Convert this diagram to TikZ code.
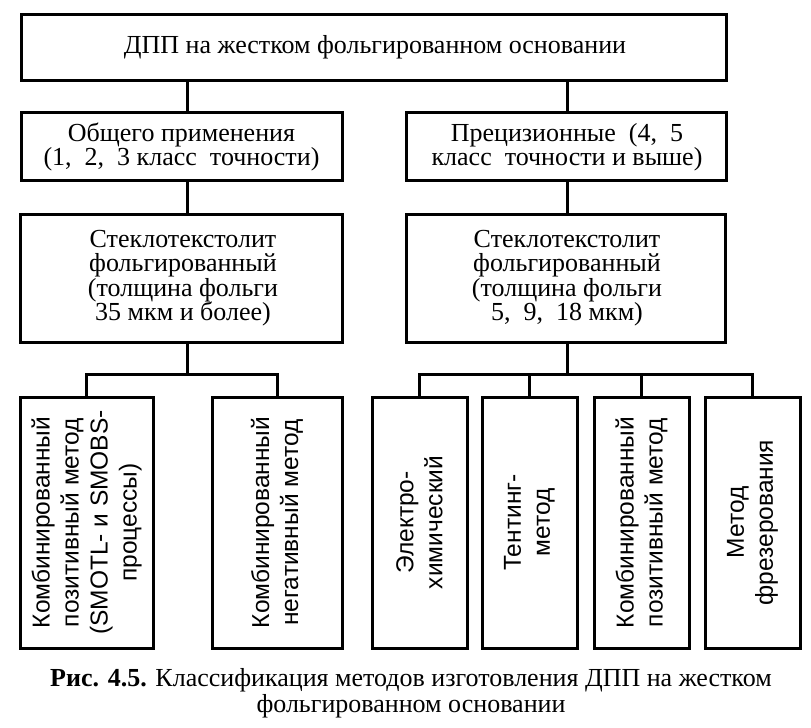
\documentclass[tikz,border=0pt]{standalone}
\usepackage{fontspec}
\setmainfont{Liberation Serif}
\setsansfont{Liberation Sans}
\begin{document}
\begin{tikzpicture}[x=1pt,y=-1pt,
  box/.style={draw,line width=3pt,inner sep=0pt,align=center},
  stxt/.style={font=\fontsize{26}{24.5}\selectfont,align=center},
  btxt/.style={font=\sffamily\fontsize{24.5}{29}\selectfont,align=center,rotate=90,inner sep=0pt},
  conn/.style={line width=3pt}]
\useasboundingbox (0,0) rectangle (811,728);
% top
\node[box,minimum width=705,minimum height=66] (top) at (373.5,47) {};
\node[stxt] (topt) at (375,47) {ДПП на жестком фольгированном основании};
% row 2
\node[box,minimum width=321,minimum height=68] (l2) at (181.5,146) {};
\node[stxt] (l2t) at (181.5,147) {Общего применения\\(1,~ 2,~ 3 класс~ точности)};
\node[box,minimum width=320,minimum height=68] (r2) at (566,146) {};
\node[stxt] (r2t) at (567,147) {Прецизионные~ (4,~ 5\\класс~ точности и выше)};
% row 3
\node[box,minimum width=322,minimum height=128] (l3) at (181,278) {};
\node[stxt] (l3t) at (183,278) {Стеклотекстолит\\фольгированный\\(толщина фольги\\35 мкм и более)};
\node[box,minimum width=319,minimum height=128] (r3) at (565.5,278) {};
\node[stxt] (r3t) at (567,278) {Стеклотекстолит\\фольгированный\\(толщина фольги\\5,~ 9,~ 18 мкм)};
% bottom boxes
\node[box,minimum width=133,minimum height=251] (b1) at (86.5,522.5) {};
\node[box,minimum width=130,minimum height=251] (b2) at (277,522.5) {};
\node[box,minimum width=95,minimum height=251] (b3) at (419.5,522.5) {};
\node[box,minimum width=95,minimum height=251] (b4) at (529.5,522.5) {};
\node[box,minimum width=95,minimum height=251] (b5) at (641.5,522.5) {};
\node[box,minimum width=95,minimum height=251] (b6) at (752.5,522.5) {};
\node[btxt] (b1t) at (b1) {Комбинированный\\позитивный метод\\(SMOTL- и SMOBS-\\процессы)};
\node[btxt] (b2t) at (b2) {Комбинированный\\негативный метод};
\node[btxt] (b3t) at (b3) {Электро-\\химический};
\node[btxt] (b4t) at (b4) {Тентинг-\\метод};
\node[btxt] (b5t) at (b5) {Комбинированный\\позитивный метод};
\node[btxt] (b6t) at (b6) {Метод\\фрезерования};
% connector columns
\coordinate (lx) at (187,0);
\coordinate (rx) at (567,0);
\coordinate (lj) at (187,374);
\coordinate (rj) at (567,374);
\draw[conn] (top.south -| lx) -- (l2.north -| lx);
\draw[conn] (top.south -| rx) -- (r2.north -| rx);
\draw[conn] (l2.south -| lx) -- (l3.north -| lx);
\draw[conn] (r2.south -| rx) -- (r3.north -| rx);
\draw[conn] (l3.south -| lx) -- (lj);
\draw[conn] (r3.south -| rx) -- (rj);
\draw[conn,line join=miter] (b1.north) -- (b1.north |- lj) -- (b2.north |- lj) -- (b2.north);
\draw[conn,line join=miter] (b3.north) -- (b3.north |- rj) -- (b6.north |- rj) -- (b6.north);
\draw[conn] (b4.north) -- (b4.north |- rj);
\draw[conn] (b5.north) -- (b5.north |- rj);
% caption
\node[font=\fontsize{26}{26}\selectfont,align=center] (cap) at (411,693) {\textbf{Рис. 4.5.} Классификация методов изготовления ДПП на жестком\\фольгированном основании};
\end{tikzpicture}
\end{document}
